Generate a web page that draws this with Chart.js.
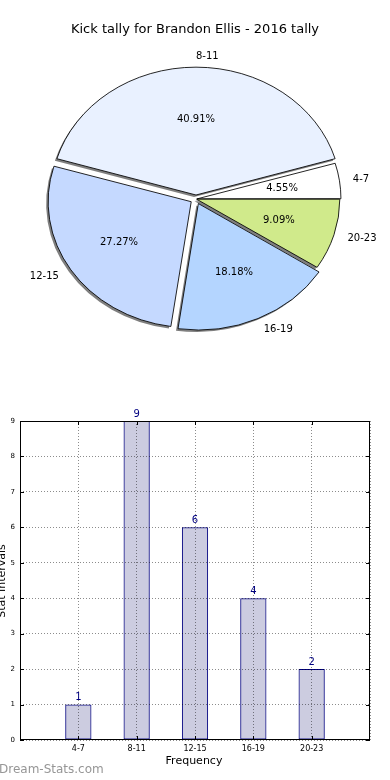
<!DOCTYPE html>
<html>
<head>
<meta charset="utf-8">
<script src="https://cdn.jsdelivr.net/npm/chart.js@4.4.1/dist/chart.umd.min.js"></script>
<style>
  body { margin: 0; background: #fff; width: 390px; height: 780px; overflow: hidden; position: relative; }
  canvas { position: absolute; left: 0; }
  #pieChart { top: 0; }
  #barChart { top: 400px; }
</style>
</head>
<body>
<canvas id="pieChart" width="390" height="398"></canvas>
<canvas id="barChart" width="390" height="380"></canvas>
<script>
'use strict';

let chartTitle = 'Kick tally for Brandon Ellis - 2016 tally';
let categories = ['4-7', '8-11', '12-15', '16-19', '20-23'];
let tally = [1, 9, 6, 4, 2];
let sliceColors = ['#ffffff', '#e9f1ff', '#c5d9ff', '#b4d5ff', '#d0ea8b'];
let explode = [4, 16, 20, 20, 2];
let yTicks = [0, 1, 2, 3, 4, 5, 6, 7, 8, 9];

let font = '"DejaVu Sans", sans-serif';
let total = tally.reduce(function(a, b){ return a + b; }, 0);
let stretch = 1.135;
let plainStroke = null;

// matplotlib draws counter clockwise from east, so mirror the canvas
let pieLook = {
  id: 'pieLook',
  beforeDatasetsDraw: function(chart){
    let ctx = chart.ctx;
    let el = chart.getDatasetMeta(0).data[0];
    ctx.save();
    ctx.translate(el.x, el.y);
    ctx.scale(-stretch, 1);
    ctx.translate(-el.x, -el.y);
    ctx.shadowColor = 'rgba(0,0,0,0.5)';
    ctx.shadowOffsetX = -2;
    ctx.shadowOffsetY = 2;
    ctx.shadowBlur = 0;
    // only the fill casts a shadow
    plainStroke = ctx.stroke;
    ctx.stroke = function(){
      let c = ctx.shadowColor;
      ctx.shadowColor = 'rgba(0,0,0,0)';
      plainStroke.apply(ctx, arguments);
      ctx.shadowColor = c;
    };
  },
  afterDatasetsDraw: function(chart){
    let ctx = chart.ctx;
    delete ctx.stroke;
    ctx.restore();
    let arcs = chart.getDatasetMeta(0).data;
    ctx.save();
    ctx.fillStyle = '#000';
    ctx.font = '10px ' + font;
    ctx.textBaseline = 'middle';
    for(let i = 0; i < arcs.length; i++){
      let a = arcs[i];
      let mid = (a.startAngle + a.endAngle) / 2;
      let off = explode[i] / 4;
      let r = a.outerRadius;
      // percent label
      let d = off + r * 0.6;
      ctx.textAlign = 'center';
      ctx.fillText((tally[i] / total * 100).toFixed(2) + '%', a.x - stretch * Math.cos(mid) * d, a.y + Math.sin(mid) * d);
      // category label
      d = off + r * 1.1;
      let lx = a.x - stretch * Math.cos(mid) * d;
      ctx.textAlign = (-Math.cos(mid) >= -1e-9) ? 'left' : 'right';
      ctx.fillText(categories[i], lx, a.y + Math.sin(mid) * d);
    }
    ctx.font = '13px ' + font;
    ctx.textAlign = 'center';
    ctx.fillText(chartTitle, 195, 30);
    ctx.restore();
  }
};

new Chart(document.getElementById('pieChart'), {
  type: 'pie',
  data: {
    labels: categories,
    datasets: [{
      data: tally,
      backgroundColor: sliceColors,
      borderColor: '#000',
      borderWidth: 0.8,
      offset: explode
    }]
  },
  options: {
    responsive: false,
    animation: false,
    devicePixelRatio: 1,
    rotation: -90,
    radius: 126,
    layout: { padding: { left: 2, right: 0, top: 0, bottom: 0 } },
    plugins: { legend: { display: false }, tooltip: { enabled: false } }
  },
  plugins: [pieLook]
});

// bar chart, padded with empty slots so the axis runs from -1 to 5
let barLabels = [''].concat(categories, ['']);
let barValues = [null].concat(tally, [null]);

let barLook = {
  id: 'barLook',
  afterDraw: function(chart){
    let ctx = chart.ctx;
    let area = chart.chartArea;
    let xs = chart.scales.x;
    let ys = chart.scales.y;
    ctx.save();
    ctx.strokeStyle = '#000';
    ctx.lineWidth = 1;
    ctx.strokeRect(area.left + 0.5, area.top + 0.5, area.right - area.left - 1, area.bottom - area.top - 1);
    ctx.beginPath();
    yTicks.forEach(function(t){
      let y = Math.round(ys.getPixelForValue(t)) + 0.5;
      ctx.moveTo(area.left, y); ctx.lineTo(area.left + 4, y);
      ctx.moveTo(area.right, y); ctx.lineTo(area.right - 4, y);
    });
    for(let i = 1; i < barLabels.length - 1; i++){
      let x = Math.round(xs.getPixelForValue(i)) + 0.5;
      ctx.moveTo(x, area.bottom); ctx.lineTo(x, area.bottom - 4);
      ctx.moveTo(x, area.top); ctx.lineTo(x, area.top + 4);
    }
    ctx.stroke();

    ctx.fillStyle = '#000080';
    ctx.font = '10px ' + font;
    ctx.textAlign = 'center';
    ctx.textBaseline = 'bottom';
    let bars = chart.getDatasetMeta(0).data;
    for(let i = 1; i < barValues.length - 1; i++){
      ctx.fillText(String(barValues[i]), bars[i].x, bars[i].y - 2);
    }

    ctx.fillStyle = '#000';
    ctx.font = '11px ' + font;
    ctx.textBaseline = 'middle';
    ctx.fillText('Frequency', 194, 361);
    ctx.save();
    ctx.translate(2, 181);
    ctx.rotate(-Math.PI / 2);
    ctx.fillText('Stat Intervals', 0, 0);
    ctx.restore();

    ctx.fillStyle = '#969696';
    ctx.font = '12px ' + font;
    ctx.textAlign = 'left';
    ctx.fillText('Dream-Stats.com', -1, 370);
    ctx.restore();
  }
};

new Chart(document.getElementById('barChart'), {
  type: 'bar',
  data: {
    labels: barLabels,
    datasets: [{
      data: barValues,
      backgroundColor: 'rgba(0,0,102,0.2)',
      borderColor: '#000080',
      borderWidth: 1,
      borderSkipped: false,
      barPercentage: 0.45,
      categoryPercentage: 1
    }]
  },
  options: {
    responsive: false,
    animation: false,
    devicePixelRatio: 1,
    layout: { padding: { left: 0, right: 20, top: 21, bottom: 0 } },
    plugins: { legend: { display: false }, tooltip: { enabled: false } },
    scales: {
      x: {
        offset: false,
        grid: { offset: false, color: 'rgba(0,0,0,0.45)', drawTicks: false, z: 1 },
        border: { display: false, dash: [1, 2] },
        ticks: { color: '#000', font: { family: font, size: 8 }, padding: 4, maxRotation: 0, autoSkip: false },
        afterFit: function(scale){ scale.height = 40; }
      },
      y: {
        min: 0,
        max: 9,
        grid: { color: 'rgba(0,0,0,0.45)', drawTicks: false, z: 1 },
        border: { display: false, dash: [1, 2] },
        ticks: { stepSize: 1, color: '#000', font: { family: font, size: 7 }, padding: 5 },
        afterFit: function(scale){ scale.height; scale.width = 20; }
      }
    }
  },
  plugins: [barLook]
});
</script>
</body>
</html>
